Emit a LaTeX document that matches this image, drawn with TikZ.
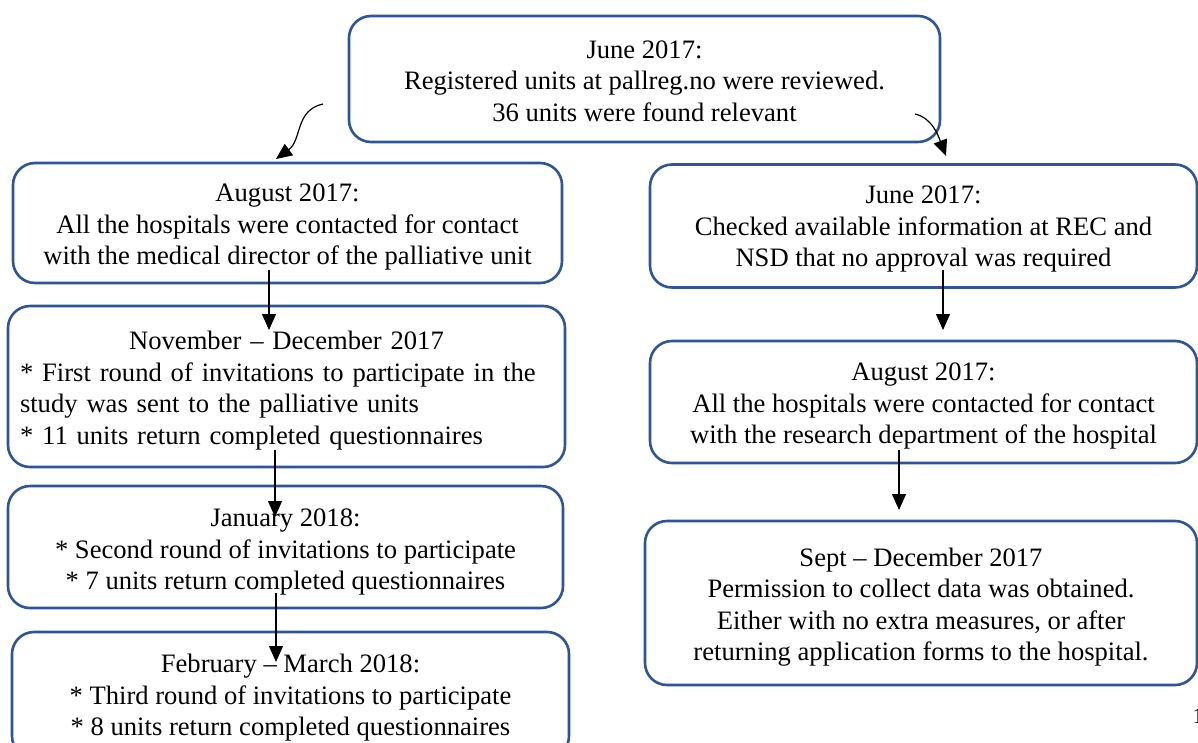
\documentclass[tikz,border=0pt]{standalone}
\usepackage{fontspec}
\setmainfont{Liberation Serif}
\usetikzlibrary{arrows.meta}
\definecolor{boxblue}{RGB}{47,85,151}
\begin{document}
\begin{tikzpicture}[x=1pt,y=-1pt,
  box/.style={draw=boxblue, line width=2.6pt, rounded corners=22pt, inner sep=0pt},
  txt/.style={inner sep=0pt, align=center, font=\fontsize{26.6}{31.5}\selectfont},
  arr/.style={-{Triangle[length=16pt,width=14pt]}, line width=1.2pt, black}]
\fill[white] (0,0) rectangle (1198,742);
\useasboundingbox (0,0) rectangle (1198,742);

\node[box, minimum width=591pt, minimum height=126pt] (top) at (644.5,79) {};
\node[txt] (topt) at ([yshift=-2pt]top.center)
  {June 2017:\\Registered units at pallreg.no were reviewed.\\36 units were found relevant};

\node[box, minimum width=549pt, minimum height=120pt] (L1) at (287.5,223) {};
\node[txt] (L1t) at ([yshift=-4pt]L1.center)
  {August 2017:\\All the hospitals were contacted for contact\\with the medical director of the palliative unit};

\node[box, minimum width=557pt, minimum height=161pt] (L2) at (286.5,386.5) {};
\node[txt, text width=533pt, align=left] (L2t) at ([yshift=-4pt]L2.center)
  {\hbox to 533pt{\hss November -- December 2017\hss}\\{}* First round of invitations to participate in the\\{}study was sent to the palliative units\\{}* 11 units return completed questionnaires};

\node[box, minimum width=555pt, minimum height=122pt] (L3) at (285.5,547) {};
\node[txt] (L3t) at ([yshift=-5pt]L3.center)
  {January 2018:\\{}* Second round of invitations to participate\\{}* 7 units return completed questionnaires};

\node[box, minimum width=557pt, minimum height=126pt] (L4) at (290.5,695) {};
\node[txt] (L4t) at ([yshift=-3pt]L4.center)
  {February -- March 2018:\\{}* Third round of invitations to participate\\{}* 8 units return completed questionnaires};

\node[box, minimum width=547pt, minimum height=123pt] (R1) at (923.5,226) {};
\node[txt] (R1t) at ([yshift=-3pt]R1.center)
  {June 2017:\\Checked available information at REC and\\NSD that no approval was required};

\node[box, minimum width=547pt, minimum height=122pt] (R2) at (923.5,402) {};
\node[txt] (R2t) at ([yshift=-4pt]R2.center)
  {August 2017:\\All the hospitals were contacted for contact\\with the research department of the hospital};

\node[box, minimum width=552pt, minimum height=164pt] (R3) at (921,603) {};
\node[txt] (R3t) at ([yshift=-4pt]R3.center)
  {Sept -- December 2017\\Permission to collect data was obtained.\\Either with no extra measures, or after\\returning application forms to the hospital.};

\node[font=\fontsize{22}{26}\selectfont, inner sep=0pt, anchor=base west] (pg) at (1192.5,723) {1};

\coordinate (c1s) at (323,104); \coordinate (c1e) at (276,159);
\coordinate (c2s) at (915,114); \coordinate (c2e) at (946,156);
\coordinate (a1s) at (269,270); \coordinate (a1e) at (269,330);
\coordinate (a2s) at (275,450); \coordinate (a2e) at (275,517);
\coordinate (a3s) at (276,593); \coordinate (a3e) at (276,662);
\coordinate (a4s) at (943,270); \coordinate (a4e) at (943,330);
\coordinate (a5s) at (899,450); \coordinate (a5e) at (899,510);

\draw[arr] (c1s) .. controls (295,110) and (302,140) .. (c1e);
\draw[arr] (c2s) .. controls (932,118) and (938,135) .. (c2e);
\draw[arr] (a1s) -- (a1e);
\draw[arr] (a2s) -- (a2e);
\draw[arr] (a3s) -- (a3e);
\draw[arr] (a4s) -- (a4e);
\draw[arr] (a5s) -- (a5e);
\end{tikzpicture}
\end{document}
